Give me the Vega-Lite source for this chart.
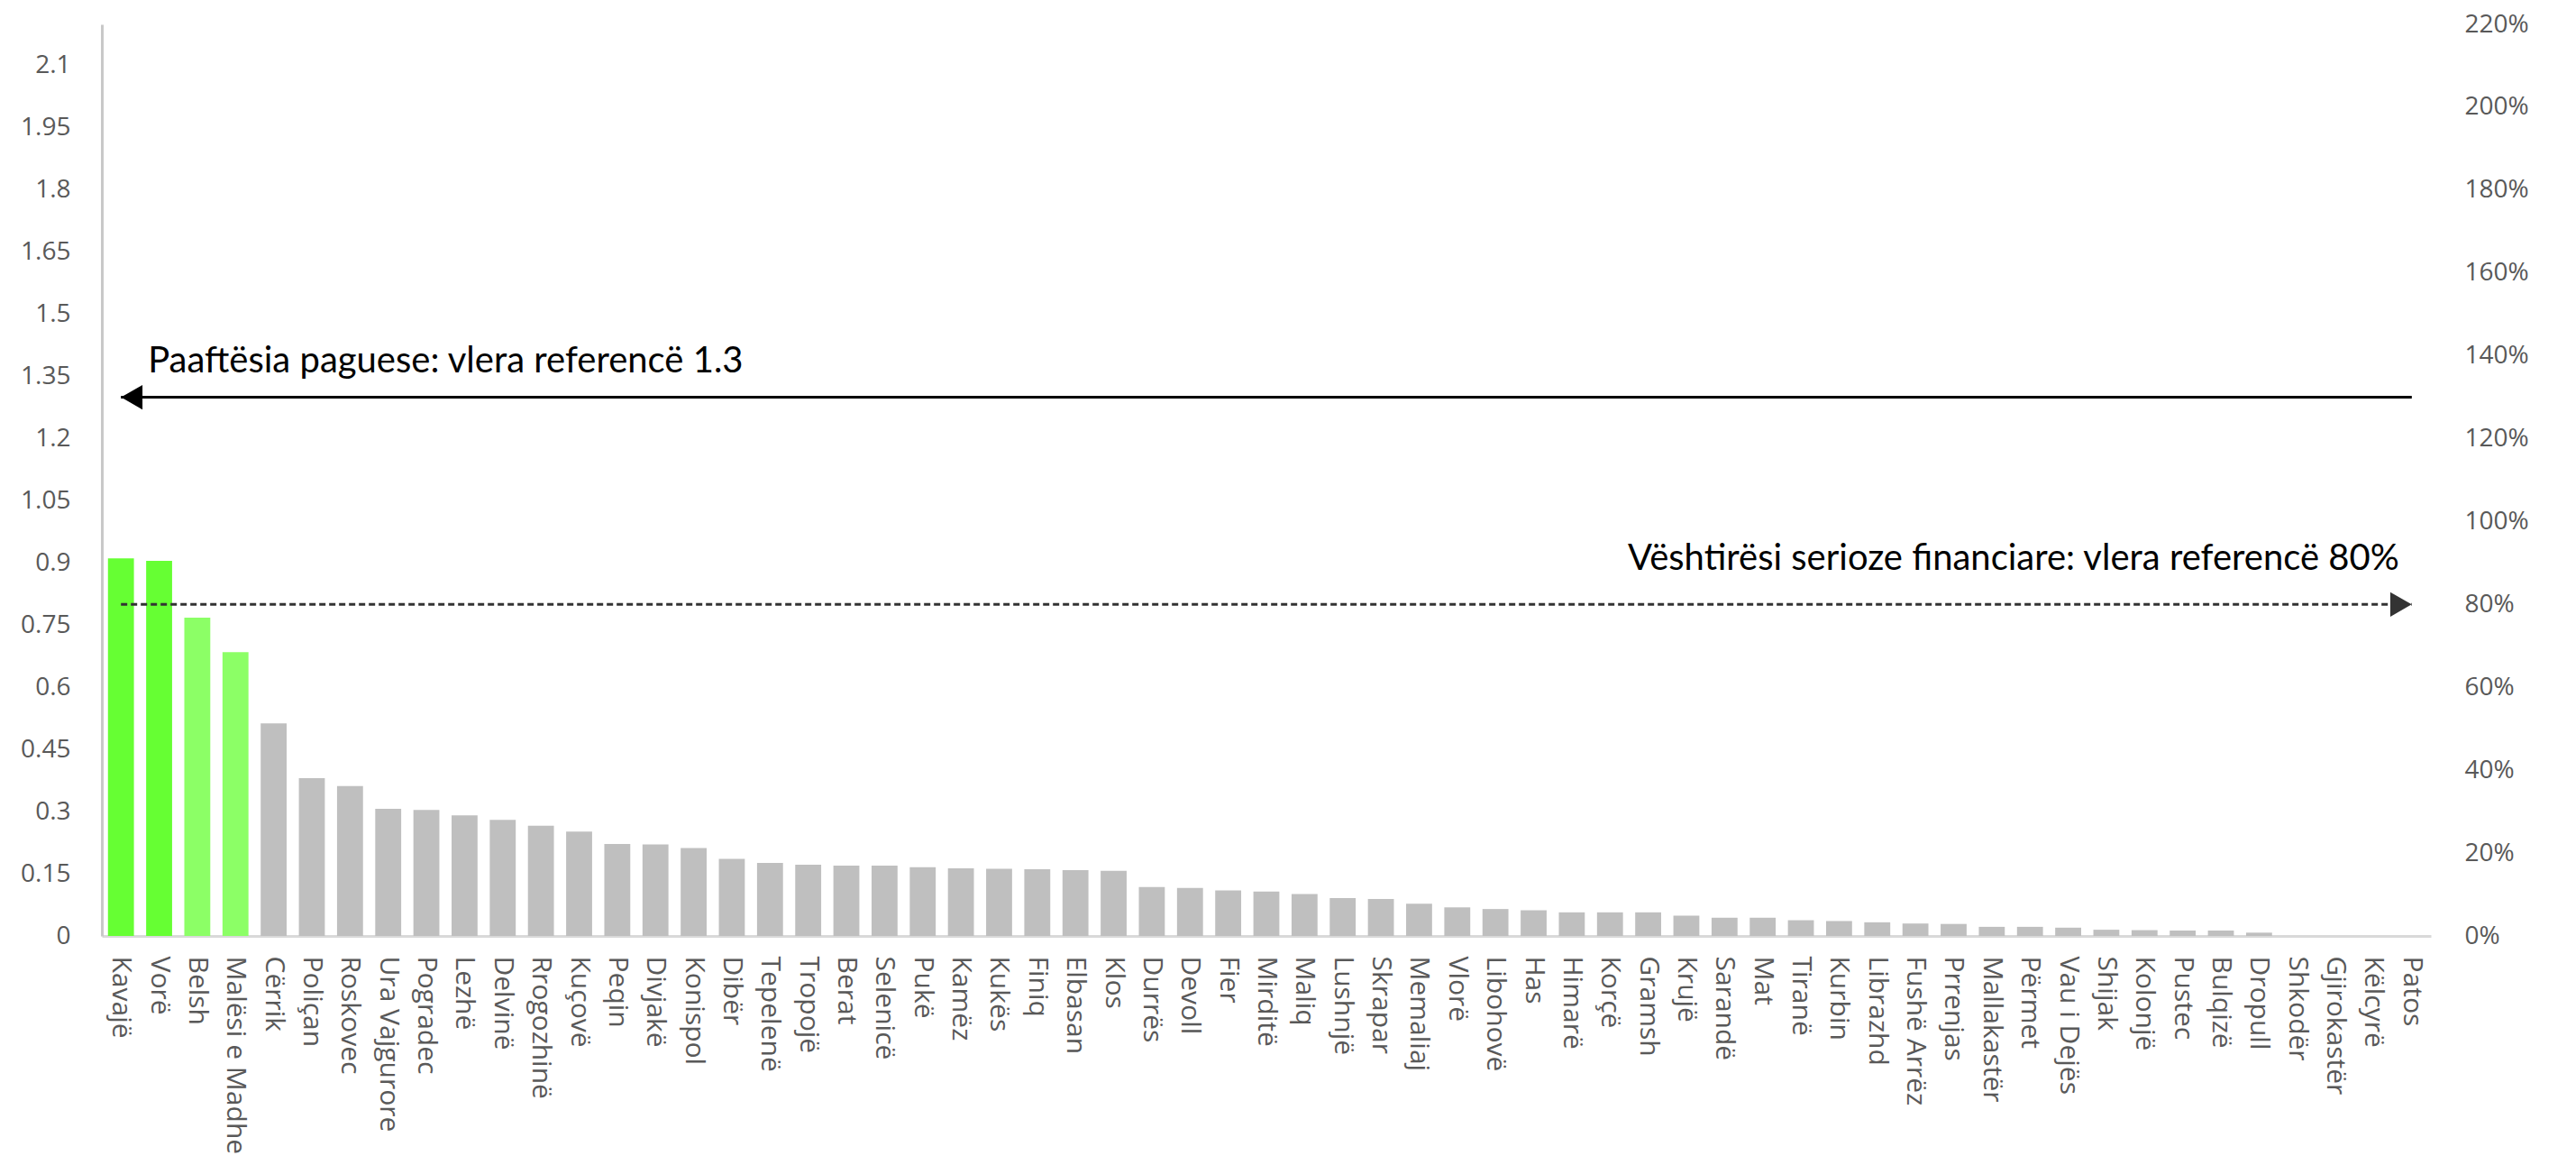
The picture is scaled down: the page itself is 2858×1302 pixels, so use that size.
{
  "$schema": "https://vega.github.io/schema/vega-lite/v6.json",
  "width": 2584,
  "height": 1011,
  "autosize": {"type": "none"},
  "padding": {"left": 113, "top": 27, "right": 161, "bottom": 264},
  "background": "white",
  "config": {"view": {"stroke": null}},
  "layer": [
    {
      "data": {"values": [
        {"komuna": "Kavajë", "vlera": 0.911},
        {"komuna": "Vorë", "vlera": 0.905},
        {"komuna": "Belsh", "vlera": 0.768},
        {"komuna": "Malësi e Madhe", "vlera": 0.685},
        {"komuna": "Cërrik", "vlera": 0.513},
        {"komuna": "Poliçan", "vlera": 0.381},
        {"komuna": "Roskovec", "vlera": 0.362},
        {"komuna": "Ura Vajgurore", "vlera": 0.307},
        {"komuna": "Pogradec", "vlera": 0.304},
        {"komuna": "Lezhë", "vlera": 0.291},
        {"komuna": "Delvinë", "vlera": 0.28},
        {"komuna": "Rrogozhinë", "vlera": 0.266},
        {"komuna": "Kuçovë", "vlera": 0.252},
        {"komuna": "Peqin", "vlera": 0.222},
        {"komuna": "Divjakë", "vlera": 0.221},
        {"komuna": "Konispol", "vlera": 0.212},
        {"komuna": "Dibër", "vlera": 0.186},
        {"komuna": "Tepelenë", "vlera": 0.176},
        {"komuna": "Tropojë", "vlera": 0.172},
        {"komuna": "Berat", "vlera": 0.17},
        {"komuna": "Selenicë", "vlera": 0.17},
        {"komuna": "Pukë", "vlera": 0.166},
        {"komuna": "Kamëz", "vlera": 0.163},
        {"komuna": "Kukës", "vlera": 0.162},
        {"komuna": "Finiq", "vlera": 0.161},
        {"komuna": "Elbasan", "vlera": 0.159},
        {"komuna": "Klos", "vlera": 0.157},
        {"komuna": "Durrës", "vlera": 0.118},
        {"komuna": "Devoll", "vlera": 0.116},
        {"komuna": "Fier", "vlera": 0.11},
        {"komuna": "Mirditë", "vlera": 0.107},
        {"komuna": "Maliq", "vlera": 0.101},
        {"komuna": "Lushnjë", "vlera": 0.0915},
        {"komuna": "Skrapar", "vlera": 0.089},
        {"komuna": "Memaliaj", "vlera": 0.078},
        {"komuna": "Vlorë", "vlera": 0.069},
        {"komuna": "Libohovë", "vlera": 0.065},
        {"komuna": "Has", "vlera": 0.062},
        {"komuna": "Himarë", "vlera": 0.057},
        {"komuna": "Korçë", "vlera": 0.057},
        {"komuna": "Gramsh", "vlera": 0.057},
        {"komuna": "Krujë", "vlera": 0.049},
        {"komuna": "Sarandë", "vlera": 0.044},
        {"komuna": "Mat", "vlera": 0.044},
        {"komuna": "Tiranë", "vlera": 0.038},
        {"komuna": "Kurbin", "vlera": 0.036},
        {"komuna": "Librazhd", "vlera": 0.033},
        {"komuna": "Fushë Arrëz", "vlera": 0.03},
        {"komuna": "Prrenjas", "vlera": 0.029},
        {"komuna": "Mallakastër", "vlera": 0.022},
        {"komuna": "Përmet", "vlera": 0.022},
        {"komuna": "Vau i Dejës", "vlera": 0.02},
        {"komuna": "Shijak", "vlera": 0.015},
        {"komuna": "Kolonjë", "vlera": 0.014},
        {"komuna": "Pustec", "vlera": 0.013},
        {"komuna": "Bulqizë", "vlera": 0.013},
        {"komuna": "Dropull", "vlera": 0.008},
        {"komuna": "Shkodër", "vlera": 0},
        {"komuna": "Gjirokastër", "vlera": 0},
        {"komuna": "Këlcyrë", "vlera": 0},
        {"komuna": "Patos", "vlera": 0}
      ]},
      "mark": {"type": "bar"},
      "encoding": {
        "x": {
          "field": "komuna", "type": "nominal", "sort": null,
          "scale": {"paddingInner": 0.32, "paddingOuter": 0.16},
          "axis": {"title": null, "labelAngle": 90, "labelFont": "Open Sans", "labelFontSize": 30, "labelColor": "#595959", "labelPadding": 22, "ticks": false, "domainColor": "#d9d9d9", "domainWidth": 3, "labelLimit": 0, "labelOverlap": false}
        },
        "y": {
          "field": "vlera", "type": "quantitative",
          "scale": {"domain": [0, 2.2], "nice": false, "zero": true},
          "axis": {"title": null, "values": [0, 0.15, 0.3, 0.45, 0.6, 0.75, 0.9, 1.05, 1.2, 1.35, 1.5, 1.65, 1.8, 1.95, 2.1], "format": ".3~g", "grid": false, "ticks": false, "labelPadding": 35, "domainColor": "#c8c8c8", "domainWidth": 3, "labelFont": "Open Sans", "labelFontSize": 28, "labelColor": "#595959"}
        },
        "color": {
          "condition": [
            {"test": "datum.vlera > 0.8", "value": "#66ff33"},
            {"test": "datum.vlera > 0.6", "value": "#8cff66"}
          ],
          "value": "#bfbfbf"
        }
      }
    },
    {
      "data": {"values": [{"komuna": "Kavajë", "deri": "Patos", "vlera": 1.3}]},
      "mark": {"type": "rule", "color": "#000000", "strokeWidth": 3},
      "encoding": {
        "x": {"field": "komuna", "type": "nominal", "sort": null},
        "x2": {"field": "deri"},
        "y": {"field": "vlera", "type": "quantitative", "axis": null}
      }
    },
    {
      "data": {"values": [{"komuna": "Kavajë", "deri": "Patos", "vlera": 0.8}]},
      "mark": {"type": "rule", "color": "#333333", "strokeWidth": 3, "strokeDash": [7, 4]},
      "encoding": {
        "x": {"field": "komuna", "type": "nominal", "sort": null},
        "x2": {"field": "deri"},
        "y": {
          "field": "vlera", "type": "quantitative",
          "axis": {"orient": "right", "title": null, "values": [0, 0.2, 0.4, 0.6, 0.8, 1, 1.2, 1.4, 1.6, 1.8, 2, 2.2], "format": ".0%", "domain": false, "ticks": false, "grid": false, "labelPadding": 37, "labelAlign": "left", "labelFont": "Open Sans", "labelFontSize": 28, "labelColor": "#595959"}
        }
      }
    },
    {
      "data": {"values": [{"komuna": "Kavajë", "vlera": 1.3}]},
      "mark": {"type": "point", "shape": "triangle-left", "filled": true, "color": "#000000", "opacity": 1, "size": 750, "xOffset": 12},
      "encoding": {
        "x": {"field": "komuna", "type": "nominal", "sort": null},
        "y": {"field": "vlera", "type": "quantitative", "axis": null}
      }
    },
    {
      "data": {"values": [{"komuna": "Patos", "vlera": 0.8}]},
      "mark": {"type": "point", "shape": "triangle-right", "filled": true, "color": "#333333", "opacity": 1, "size": 750, "xOffset": -12},
      "encoding": {
        "x": {"field": "komuna", "type": "nominal", "sort": null},
        "y": {"field": "vlera", "type": "quantitative", "axis": null}
      }
    },
    {
      "data": {"values": [{"komuna": "Kavajë", "vlera": 1.3, "teksti": "Paaftësia paguese: vlera referencë  1.3"}]},
      "mark": {"type": "text", "align": "left", "baseline": "middle", "dx": 30, "dy": -40, "font": "Lato", "fontSize": 40, "color": "#000000"},
      "encoding": {
        "x": {"field": "komuna", "type": "nominal", "sort": null},
        "y": {"field": "vlera", "type": "quantitative", "axis": null},
        "text": {"field": "teksti"}
      }
    },
    {
      "data": {"values": [{"komuna": "Patos", "vlera": 0.8, "teksti": "Vështirësi serioze financiare: vlera referencë 80%"}]},
      "mark": {"type": "text", "align": "right", "baseline": "middle", "dx": -14, "dy": -50, "font": "Lato", "fontSize": 40, "color": "#000000"},
      "encoding": {
        "x": {"field": "komuna", "type": "nominal", "sort": null},
        "y": {"field": "vlera", "type": "quantitative", "axis": null},
        "text": {"field": "teksti"}
      }
    }
  ],
  "resolve": {"axis": {"y": "independent"}}
}
